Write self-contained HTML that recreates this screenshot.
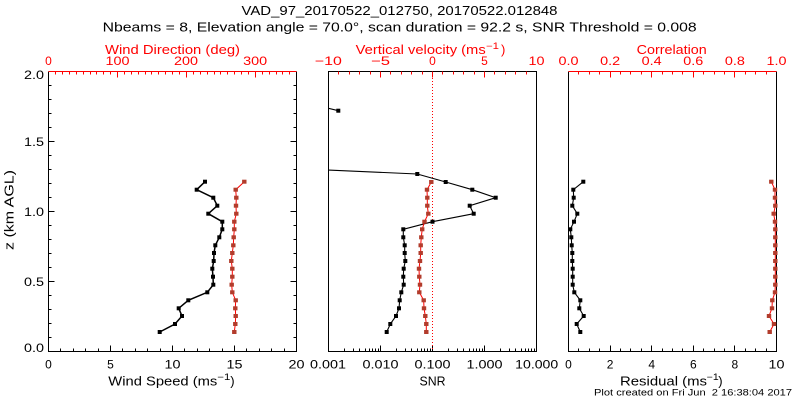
<!DOCTYPE html>
<html><head><meta charset="utf-8"><style>
html,body{margin:0;padding:0;background:#fff}
svg{display:block}
text{font-family:"Liberation Sans",sans-serif}
</style></head><body>
<svg width="800" height="400" viewBox="0 0 800 400" xmlns="http://www.w3.org/2000/svg">
<defs>
<rect id="b" x="-2" y="-2" width="4" height="4" fill="#000"/>
<rect id="r" x="-2.2" y="-2" width="4.4" height="4" fill="#b23c2c"/>
<clipPath id="cm"><rect x="328.5" y="71.5" width="208" height="280"/></clipPath>
</defs>

<!-- Titles -->
<text x="399.5" y="15" text-anchor="middle" font-size="13" textLength="316" lengthAdjust="spacingAndGlyphs">VAD_97_20170522_012750, 20170522.012848</text>
<text x="399.7" y="31.5" text-anchor="middle" font-size="13" textLength="594" lengthAdjust="spacingAndGlyphs">Nbeams = 8, Elevation angle = 70.0°, scan duration = 92.2 s, SNR Threshold = 0.008</text>

<!-- Top axis titles (red) -->
<g fill="#ff0000" font-size="13">
<text x="105" y="54" textLength="135" lengthAdjust="spacingAndGlyphs">Wind Direction (deg)</text>
<text x="355.7" y="54" textLength="130" lengthAdjust="spacingAndGlyphs">Vertical velocity (ms</text>
<text x="486" y="49" font-size="9" textLength="13" lengthAdjust="spacingAndGlyphs">−1</text>
<text x="501" y="54">)</text>
<text x="636.7" y="54" textLength="70" lengthAdjust="spacingAndGlyphs">Correlation</text>
</g>

<!-- Top tick labels (red) -->
<g fill="#ff0000" font-size="12" text-anchor="middle">
<text x="48.5" y="65">0</text>
<text x="117.5" y="65" textLength="24" lengthAdjust="spacingAndGlyphs">100</text>
<text x="186" y="65" textLength="24" lengthAdjust="spacingAndGlyphs">200</text>
<text x="255.2" y="65" textLength="24" lengthAdjust="spacingAndGlyphs">300</text>
<text x="328.3" y="65" textLength="27" lengthAdjust="spacingAndGlyphs">−10</text>
<text x="380.5" y="65" textLength="19" lengthAdjust="spacingAndGlyphs">−5</text>
<text x="432.5" y="65">0</text>
<text x="484.5" y="65">5</text>
<text x="536.5" y="65" textLength="16" lengthAdjust="spacingAndGlyphs">10</text>
<text x="568.5" y="65" textLength="20" lengthAdjust="spacingAndGlyphs">0.0</text>
<text x="610.1" y="65" textLength="20" lengthAdjust="spacingAndGlyphs">0.2</text>
<text x="651.7" y="65" textLength="20" lengthAdjust="spacingAndGlyphs">0.4</text>
<text x="693.3" y="65" textLength="20" lengthAdjust="spacingAndGlyphs">0.6</text>
<text x="734.9" y="65" textLength="20" lengthAdjust="spacingAndGlyphs">0.8</text>
<text x="776.5" y="65" textLength="20" lengthAdjust="spacingAndGlyphs">1.0</text>
</g>

<!-- Left y labels -->
<g font-size="12" text-anchor="end">
<text x="44" y="352" textLength="20" lengthAdjust="spacingAndGlyphs">0.0</text>
<text x="44" y="286" textLength="20" lengthAdjust="spacingAndGlyphs">0.5</text>
<text x="44" y="216" textLength="20" lengthAdjust="spacingAndGlyphs">1.0</text>
<text x="44" y="146" textLength="20" lengthAdjust="spacingAndGlyphs">1.5</text>
<text x="44" y="79" textLength="20" lengthAdjust="spacingAndGlyphs">2.0</text>
</g>
<text transform="translate(13.5,210) rotate(-90)" text-anchor="middle" font-size="13" textLength="80" lengthAdjust="spacingAndGlyphs">z (km AGL)</text>

<!-- Bottom tick labels -->
<g font-size="12" text-anchor="middle">
<text x="48.5" y="368.5">0</text>
<text x="110.5" y="368.5">5</text>
<text x="172.5" y="368.5" textLength="16" lengthAdjust="spacingAndGlyphs">10</text>
<text x="234.5" y="368.5" textLength="16" lengthAdjust="spacingAndGlyphs">15</text>
<text x="296.5" y="368.5" textLength="16" lengthAdjust="spacingAndGlyphs">20</text>
<text x="328" y="368.5" textLength="36" lengthAdjust="spacingAndGlyphs">0.001</text>
<text x="380.5" y="368.5" textLength="36" lengthAdjust="spacingAndGlyphs">0.010</text>
<text x="432.5" y="368.5" textLength="36" lengthAdjust="spacingAndGlyphs">0.100</text>
<text x="484.5" y="368.5" textLength="36" lengthAdjust="spacingAndGlyphs">1.000</text>
<text x="536.7" y="368.5" textLength="43" lengthAdjust="spacingAndGlyphs">10.000</text>
<text x="568.5" y="368.5">0</text>
<text x="610.1" y="368.5">2</text>
<text x="651.7" y="368.5">4</text>
<text x="693.3" y="368.5">6</text>
<text x="734.9" y="368.5">8</text>
<text x="776.5" y="368.5" textLength="16" lengthAdjust="spacingAndGlyphs">10</text>
</g>

<!-- Bottom titles -->
<g font-size="13">
<text x="108.3" y="385.5" textLength="109" lengthAdjust="spacingAndGlyphs">Wind Speed (ms</text>
<text x="217.3" y="380" font-size="9" textLength="13" lengthAdjust="spacingAndGlyphs">−1</text>
<text x="230.3" y="385.5">)</text>
<text x="432.5" y="385.5" text-anchor="middle" textLength="26" lengthAdjust="spacingAndGlyphs">SNR</text>
<text x="620" y="385.5" textLength="87" lengthAdjust="spacingAndGlyphs">Residual (ms</text>
<text x="706.7" y="380" font-size="9" textLength="12" lengthAdjust="spacingAndGlyphs">−1</text>
<text x="718.3" y="385.5">)</text>
</g>
<text x="594" y="395.5" font-size="9" textLength="198" lengthAdjust="spacingAndGlyphs" style="white-space:pre">Plot created on Fri Jun  2 16:38:04 2017</text>

<!-- ===== Panel frames ===== -->
<g fill="none" stroke-width="1">
<!-- left panel -->
<path d="M48.5 71.5V351.5H296.5V71.5" stroke="#000"/>
<path d="M48.5 71.5H296.5" stroke="#ff0000"/>
<!-- middle panel -->
<path d="M328.5 71.5V351.5H536.5V71.5Z" stroke="#000"/>
<!-- right panel -->
<path d="M568.5 71.5V351.5H776.5V71.5" stroke="#000"/>
<path d="M568.5 71.5H776.5" stroke="#ff0000"/>
</g>

<!-- Ticks -->
<g fill="none" stroke-width="1">
<!-- left panel top (red) -->
<path stroke="#ff0000" d="M55.5 71.5v3M62.5 71.5v3M69.5 71.5v3M76.5 71.5v3M83.5 71.5v3M90.5 71.5v3M96.5 71.5v3M103.5 71.5v3M110.5 71.5v3M117.5 71.5v6M124.5 71.5v3M131.5 71.5v3M138.5 71.5v3M145.5 71.5v3M151.5 71.5v3M158.5 71.5v3M165.5 71.5v3M172.5 71.5v3M179.5 71.5v3M186.5 71.5v6M193.5 71.5v3M200.5 71.5v3M207.5 71.5v3M214.5 71.5v3M220.5 71.5v3M227.5 71.5v3M234.5 71.5v3M241.5 71.5v3M248.5 71.5v3M255.5 71.5v6M262.5 71.5v3M269.5 71.5v3M276.5 71.5v3M282.5 71.5v3M289.5 71.5v3"/>
<!-- left panel bottom (black) -->
<path stroke="#000" d="M60.5 351.5v-3M73.5 351.5v-3M85.5 351.5v-3M98.5 351.5v-3M110.5 351.5v-6M122.5 351.5v-3M135.5 351.5v-3M147.5 351.5v-3M160.5 351.5v-3M172.5 351.5v-6M184.5 351.5v-3M197.5 351.5v-3M209.5 351.5v-3M222.5 351.5v-3M234.5 351.5v-6M246.5 351.5v-3M259.5 351.5v-3M271.5 351.5v-3M284.5 351.5v-3"/>
<!-- left panel y ticks left and right -->
<path stroke="#000" d="M48.5 337.5h3M48.5 323.5h3M48.5 309.5h3M48.5 295.5h3M48.5 281.5h6M48.5 267.5h3M48.5 253.5h3M48.5 239.5h3M48.5 225.5h3M48.5 211.5h6M48.5 197.5h3M48.5 183.5h3M48.5 169.5h3M48.5 155.5h3M48.5 141.5h6M48.5 127.5h3M48.5 113.5h3M48.5 99.5h3M48.5 85.5h3
M296.5 337.5h-3M296.5 323.5h-3M296.5 309.5h-3M296.5 295.5h-3M296.5 281.5h-6M296.5 267.5h-3M296.5 253.5h-3M296.5 239.5h-3M296.5 225.5h-3M296.5 211.5h-6M296.5 197.5h-3M296.5 183.5h-3M296.5 169.5h-3M296.5 155.5h-3M296.5 141.5h-6M296.5 127.5h-3M296.5 113.5h-3M296.5 99.5h-3M296.5 85.5h-3"/>
<!-- middle top (red) -->
<path stroke="#ff0000" d="M338.5 71.5v3M349.5 71.5v3M359.5 71.5v3M370.5 71.5v3M380.5 71.5v6M390.5 71.5v3M401.5 71.5v3M411.5 71.5v3M422.5 71.5v3M432.5 71.5v6M442.5 71.5v3M453.5 71.5v3M463.5 71.5v3M474.5 71.5v3M484.5 71.5v6M494.5 71.5v3M505.5 71.5v3M515.5 71.5v3M526.5 71.5v3"/>
<!-- middle bottom (black, log) -->
<path stroke="#000" d="M344.5 351.5v-3M353.5 351.5v-3M359.5 351.5v-3M365.5 351.5v-3M369.5 351.5v-3M372.5 351.5v-3M375.5 351.5v-3M378.5 351.5v-3M380.5 351.5v-6
M396.5 351.5v-3M405.5 351.5v-3M411.5 351.5v-3M417.5 351.5v-3M421.5 351.5v-3M424.5 351.5v-3M427.5 351.5v-3M430.5 351.5v-3M432.5 351.5v-6
M448.5 351.5v-3M457.5 351.5v-3M463.5 351.5v-3M469.5 351.5v-3M473.5 351.5v-3M476.5 351.5v-3M479.5 351.5v-3M482.5 351.5v-3M484.5 351.5v-6
M500.5 351.5v-3M509.5 351.5v-3M515.5 351.5v-3M521.5 351.5v-3M525.5 351.5v-3M528.5 351.5v-3M531.5 351.5v-3M534.5 351.5v-3"/>
<!-- right top (red) -->
<path stroke="#ff0000" d="M578.5 71.5v3M589.5 71.5v3M599.5 71.5v3M610.5 71.5v6M620.5 71.5v3M630.5 71.5v3M641.5 71.5v3M651.5 71.5v6M662.5 71.5v3M672.5 71.5v3M682.5 71.5v3M693.5 71.5v6M703.5 71.5v3M714.5 71.5v3M724.5 71.5v3M734.5 71.5v6M745.5 71.5v3M755.5 71.5v3M766.5 71.5v3"/>
<!-- right bottom (black) -->
<path stroke="#000" d="M578.5 351.5v-3M589.5 351.5v-3M599.5 351.5v-3M610.5 351.5v-6M620.5 351.5v-3M630.5 351.5v-3M641.5 351.5v-3M651.5 351.5v-6M662.5 351.5v-3M672.5 351.5v-3M682.5 351.5v-3M693.5 351.5v-6M703.5 351.5v-3M714.5 351.5v-3M724.5 351.5v-3M734.5 351.5v-6M745.5 351.5v-3M755.5 351.5v-3M766.5 351.5v-3"/>
</g>

<!-- Middle dotted zero line -->
<path d="M432.5 72V351" stroke="#ff0000" stroke-width="1" stroke-dasharray="1 2" fill="none"/>

<!-- ===== Left panel data ===== -->
<polyline fill="none" stroke="#000" stroke-width="1.5" points="159.7,332 175,324 182,316 178.7,308.3 188.3,300.3 207.3,292.3 213.3,284.7 213,276.7 212.3,268.7 213.7,261 214,253 215.3,245.3 219.3,237.3 222.3,229.3 222.3,221.7 208.3,213.7 217.3,205.7 213.3,197.7 196.7,189.7 205,181.7"/>
<polyline fill="none" stroke="#ff0000" stroke-width="1" points="234.3,332 235.3,324 235.7,316 235.3,308.3 235.7,300.3 232.3,292.3 231.7,284.7 232.3,276.7 232.3,268.7 231.3,261 232.3,253 233.3,245.3 233.7,237.3 234.3,229.3 234.3,221.7 236.3,213.7 236,205.7 236.3,197.7 235.7,189.7 244.3,181.7"/>
<g>
<use href="#b" x="159.7" y="332"/><use href="#b" x="175" y="324"/><use href="#b" x="182" y="316"/><use href="#b" x="178.7" y="308.3"/><use href="#b" x="188.3" y="300.3"/><use href="#b" x="207.3" y="292.3"/><use href="#b" x="213.3" y="284.7"/><use href="#b" x="213" y="276.7"/><use href="#b" x="212.3" y="268.7"/><use href="#b" x="213.7" y="261"/><use href="#b" x="214" y="253"/><use href="#b" x="215.3" y="245.3"/><use href="#b" x="219.3" y="237.3"/><use href="#b" x="222.3" y="229.3"/><use href="#b" x="222.3" y="221.7"/><use href="#b" x="208.3" y="213.7"/><use href="#b" x="217.3" y="205.7"/><use href="#b" x="213.3" y="197.7"/><use href="#b" x="196.7" y="189.7"/><use href="#b" x="205" y="181.7"/>
<use href="#r" x="234.3" y="332"/><use href="#r" x="235.3" y="324"/><use href="#r" x="235.7" y="316"/><use href="#r" x="235.3" y="308.3"/><use href="#r" x="235.7" y="300.3"/><use href="#r" x="232.3" y="292.3"/><use href="#r" x="231.7" y="284.7"/><use href="#r" x="232.3" y="276.7"/><use href="#r" x="232.3" y="268.7"/><use href="#r" x="231.3" y="261"/><use href="#r" x="232.3" y="253"/><use href="#r" x="233.3" y="245.3"/><use href="#r" x="233.7" y="237.3"/><use href="#r" x="234.3" y="229.3"/><use href="#r" x="234.3" y="221.7"/><use href="#r" x="236.3" y="213.7"/><use href="#r" x="236" y="205.7"/><use href="#r" x="236.3" y="197.7"/><use href="#r" x="235.7" y="189.7"/><use href="#r" x="244.3" y="181.7"/>
</g>

<!-- ===== Middle panel data ===== -->
<g clip-path="url(#cm)">
<polyline fill="none" stroke="#000" stroke-width="1.1" points="386.7,332 390.3,324 396,316 399,308.3 399.7,300.3 401.3,292.3 403.7,284.7 403.3,276.7 403.7,268.7 405.3,261 404.7,253 404.7,245.3 403.3,237.3 403.3,229.3 432.5,221.7 473.7,213.7 469.7,205.7 495.7,197.7 472.3,189.7 445.7,182 417.3,174 150,162"/>
<polyline fill="none" stroke="#000" stroke-width="1.1" points="338.3,110.7 290,99.1"/>
<polyline fill="none" stroke="#ff0000" stroke-width="1" points="426.3,332 426.3,324 425.3,316 424,308.3 423.7,300.3 419.3,292.3 420,284.7 419.3,276.7 419,268.7 420,261 420.7,253 420.7,245.3 421.3,237.3 422.2,229.3 424.5,221.7 428.3,213.7 427.3,205.7 427.3,197.7 427,189.7 431.3,182"/>
<use href="#b" x="386.7" y="332"/><use href="#b" x="390.3" y="324"/><use href="#b" x="396" y="316"/><use href="#b" x="399" y="308.3"/><use href="#b" x="399.7" y="300.3"/><use href="#b" x="401.3" y="292.3"/><use href="#b" x="403.7" y="284.7"/><use href="#b" x="403.3" y="276.7"/><use href="#b" x="403.7" y="268.7"/><use href="#b" x="405.3" y="261"/><use href="#b" x="404.7" y="253"/><use href="#b" x="404.7" y="245.3"/><use href="#b" x="403.3" y="237.3"/><use href="#b" x="403.3" y="229.3"/><use href="#b" x="432.5" y="221.7"/><use href="#b" x="473.7" y="213.7"/><use href="#b" x="469.7" y="205.7"/><use href="#b" x="495.7" y="197.7"/><use href="#b" x="472.3" y="189.7"/><use href="#b" x="445.7" y="182"/><use href="#b" x="417.3" y="174"/><use href="#b" x="338.3" y="110.7"/>
<use href="#r" x="426.3" y="332"/><use href="#r" x="426.3" y="324"/><use href="#r" x="425.3" y="316"/><use href="#r" x="424" y="308.3"/><use href="#r" x="423.7" y="300.3"/><use href="#r" x="419.3" y="292.3"/><use href="#r" x="420" y="284.7"/><use href="#r" x="419.3" y="276.7"/><use href="#r" x="419" y="268.7"/><use href="#r" x="420" y="261"/><use href="#r" x="420.7" y="253"/><use href="#r" x="420.7" y="245.3"/><use href="#r" x="421.3" y="237.3"/><use href="#r" x="422.2" y="229.3"/><use href="#r" x="424.5" y="221.7"/><use href="#r" x="428.3" y="213.7"/><use href="#r" x="427.3" y="205.7"/><use href="#r" x="427.3" y="197.7"/><use href="#r" x="427" y="189.7"/><use href="#r" x="431.3" y="182"/>
</g>

<!-- ===== Right panel data ===== -->
<polyline fill="none" stroke="#000" stroke-width="1.1" points="580.3,332 576.7,324 583.7,316 579.3,308.3 580.3,300.3 574.3,292.3 572.7,284.7 572.7,276.7 572.7,268.7 572.3,261 572.3,253 571.7,245.3 571.3,237.3 570.3,229.3 574,221.7 577.3,213.7 572.3,205.7 573.7,197.7 573.3,189.7 583.3,181.7"/>
<polyline fill="none" stroke="#ff0000" stroke-width="1" points="769.7,332 774,324 769,316 772,308.3 772.3,300.3 775,292.3 775.3,284.7 775.3,276.7 775.3,268.7 775.3,261 775.3,253 775.3,245.3 775.3,237.3 775.3,229.3 775,221.7 773.7,213.7 775.3,205.7 775,197.7 775,189.7 771.3,181.7"/>
<g>
<use href="#b" x="580.3" y="332"/><use href="#b" x="576.7" y="324"/><use href="#b" x="583.7" y="316"/><use href="#b" x="579.3" y="308.3"/><use href="#b" x="580.3" y="300.3"/><use href="#b" x="574.3" y="292.3"/><use href="#b" x="572.7" y="284.7"/><use href="#b" x="572.7" y="276.7"/><use href="#b" x="572.7" y="268.7"/><use href="#b" x="572.3" y="261"/><use href="#b" x="572.3" y="253"/><use href="#b" x="571.7" y="245.3"/><use href="#b" x="571.3" y="237.3"/><use href="#b" x="570.3" y="229.3"/><use href="#b" x="574" y="221.7"/><use href="#b" x="577.3" y="213.7"/><use href="#b" x="572.3" y="205.7"/><use href="#b" x="573.7" y="197.7"/><use href="#b" x="573.3" y="189.7"/><use href="#b" x="583.3" y="181.7"/>
<use href="#r" x="769.7" y="332"/><use href="#r" x="774" y="324"/><use href="#r" x="769" y="316"/><use href="#r" x="772" y="308.3"/><use href="#r" x="772.3" y="300.3"/><use href="#r" x="775" y="292.3"/><use href="#r" x="775.3" y="284.7"/><use href="#r" x="775.3" y="276.7"/><use href="#r" x="775.3" y="268.7"/><use href="#r" x="775.3" y="261"/><use href="#r" x="775.3" y="253"/><use href="#r" x="775.3" y="245.3"/><use href="#r" x="775.3" y="237.3"/><use href="#r" x="775.3" y="229.3"/><use href="#r" x="775" y="221.7"/><use href="#r" x="773.7" y="213.7"/><use href="#r" x="775.3" y="205.7"/><use href="#r" x="775" y="197.7"/><use href="#r" x="775" y="189.7"/><use href="#r" x="771.3" y="181.7"/>
</g>
</svg>
</body></html>
